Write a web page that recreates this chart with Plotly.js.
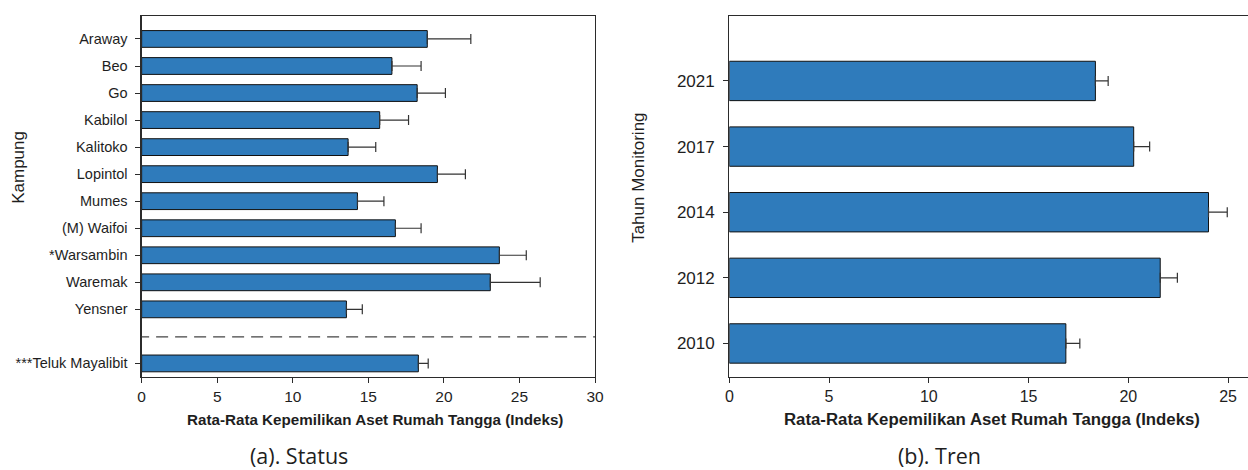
<!DOCTYPE html>
<html>
<head>
<meta charset="utf-8">
<script src="https://cdn.plot.ly/plotly-3.0.1.min.js"></script>
<style>html,body{margin:0;padding:0;background:#fff;}#chart{width:1248px;height:470px;}</style>
</head>
<body>
<div id="chart"></div>
<script>
// Panel (a): status per kampung
const villages = ["Araway","Beo","Go","Kabilol","Kalitoko","Lopintol","Mumes","(M) Waifoi","*Warsambin","Waremak","Yensner","***Teluk Mayalibit"];
const villageMean = [18.9, 16.56, 18.23, 15.75, 13.66, 19.57, 14.28, 16.79, 23.67, 23.07, 13.55, 18.31];
const villageErr  = [2.88, 1.93, 1.87, 1.91, 1.83, 1.85, 1.75, 1.7, 1.78, 3.3, 1.05, 0.65];
const xTicksA = [0, 5, 10, 15, 20, 25, 30];

// Panel (b): trend per monitoring year
const years = ["2010","2012","2014","2017","2021"];
const yearMean = [16.87, 21.6, 24.02, 20.27, 18.35];
const yearErr  = [0.7, 0.86, 0.94, 0.8, 0.64];
const xTicksB = [0, 5, 10, 15, 20, 25];

const axisTitle = "Rata-Rata Kepemilikan Aset Rumah Tangga (Indeks)";
const BAR = "#2f7bbb";
const INK = "#2b2b2b";
const TXT = "#1e1e1e";
const FONT = "Liberation Sans";
const CAPFONT = "Open Sans";

// last item (overall bay) sits one slot below the villages, after a gap
const nVill = villages.length - 1;
const posA = villages.map((v, i) => i < nVill ? i : i + 1);

const traceA = {
  type: "bar", orientation: "h",
  x: villageMean, y: posA,
  width: 0.62,
  marker: {color: BAR, line: {color: "#111", width: 1}},
  error_x: {type: "data", symmetric: false, array: villageErr, arrayminus: villageErr.map(() => 0),
            color: "#333", thickness: 1.2, width: 5},
  xaxis: "x", yaxis: "y", hoverinfo: "x+y", showlegend: false
};

const traceB = {
  type: "bar", orientation: "h",
  x: yearMean, y: years,
  width: 0.6,
  marker: {color: BAR, line: {color: "#111", width: 1}},
  error_x: {type: "data", symmetric: false, array: yearErr, arrayminus: yearErr.map(() => 0),
            color: "#333", thickness: 1.2, width: 5},
  xaxis: "x2", yaxis: "y2", hoverinfo: "x+y", showlegend: false
};

const yDom = [0.198, 0.966];
const commonX = {
  showline: true, linecolor: INK, linewidth: 1.2, mirror: true,
  ticks: "outside", ticklen: 5, tickcolor: INK, tickwidth: 1,
  showgrid: false, zeroline: false, tickmode: "array"
};

const layout = {
  width: 1248, height: 470,
  margin: {l: 0, r: 0, t: 0, b: 0},
  paper_bgcolor: "#fff", plot_bgcolor: "#fff",
  font: {family: FONT, color: TXT},
  bargap: 0,
  xaxis: Object.assign({}, commonX, {
    domain: [0.1135, 0.4768], range: [0, 30], anchor: "y",
    tickvals: xTicksA, ticktext: xTicksA.map(String),
    tickfont: {size: 15.5, family: FONT, color: TXT}
  }),
  yaxis: {
    domain: yDom, anchor: "x", range: [12.5, -0.85],
    showline: true, linecolor: INK, linewidth: 1.2, mirror: true,
    ticks: "outside", ticklen: 5, tickcolor: INK,
    showgrid: false, zeroline: false, ticklabelstandoff: 5,
    tickmode: "array", tickvals: posA, ticktext: villages,
    tickfont: {size: 14.5, family: FONT, color: TXT}
  },
  xaxis2: Object.assign({}, commonX, {
    domain: [0.5844, 1], range: [0, 26], anchor: "y2",
    tickvals: xTicksB, ticktext: xTicksB.map(String),
    tickfont: {size: 16, family: FONT, color: TXT}
  }),
  yaxis2: {
    domain: yDom, anchor: "x2", type: "category",
    categoryorder: "array", categoryarray: years, range: [-0.51, 4.99],
    showline: true, linecolor: INK, linewidth: 1.2, mirror: false,
    ticks: "outside", ticklen: 5, tickcolor: INK,
    showgrid: false, zeroline: false, ticklabelstandoff: 5,
    tickfont: {size: 17, family: FONT, color: TXT}
  },
  shapes: [{
    type: "line", xref: "x", yref: "y",
    x0: -0.3, x1: 30, y0: nVill + 0.02, y1: nVill + 0.02,
    line: {color: "#444", width: 1.2, dash: "12px,7px"}
  }],
  annotations: [
    {text: "<b>" + axisTitle + "</b>", xref: "paper", yref: "paper", x: 0.3005, y: 0.1064,
     xanchor: "center", yanchor: "middle", showarrow: false, font: {size: 15.2, family: FONT, color: TXT}},
    {text: "<b>" + axisTitle + "</b>", xref: "paper", yref: "paper", x: 0.7949, y: 0.1064,
     xanchor: "center", yanchor: "middle", showarrow: false, font: {size: 16.8, family: FONT, color: TXT}},
    {text: "Kampung", xref: "paper", yref: "paper", x: 0.0152, y: 0.645, textangle: -90,
     xanchor: "center", yanchor: "middle", showarrow: false, font: {size: 17, family: FONT, color: TXT}},
    {text: "Tahun Monitoring", xref: "paper", yref: "paper", x: 0.511, y: 0.621, textangle: -90,
     xanchor: "center", yanchor: "middle", showarrow: false, font: {size: 17, family: FONT, color: TXT}},
    {text: "(a). Status", xref: "paper", yref: "paper", x: 0.2396, y: 0.0319,
     xanchor: "center", yanchor: "middle", showarrow: false, font: {size: 21.5, family: CAPFONT, color: TXT}},
    {text: "(b). Tren", xref: "paper", yref: "paper", x: 0.7532, y: 0.0319,
     xanchor: "center", yanchor: "middle", showarrow: false, font: {size: 21.5, family: CAPFONT, color: TXT}}
  ]
};

Plotly.newPlot("chart", [traceA, traceB], layout, {staticPlot: true, displayModeBar: false});
</script>
</body>
</html>
